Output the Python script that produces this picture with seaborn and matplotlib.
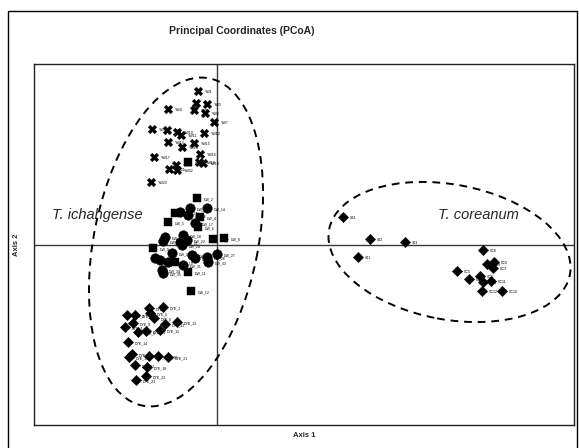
import matplotlib
matplotlib.use("Agg")
import matplotlib.pyplot as plt
import seaborn as sns
import pandas as pd
from matplotlib.patches import Ellipse, Rectangle

sns.set_style("white")
plt.rcParams['font.family'] = ['Liberation Sans', 'DejaVu Sans']

# ---- data (PCoA coordinates) ----
yw_x = [-0.19, -0.21, -0.10, -0.49, -0.23, -0.12, -0.03, -0.65, -0.50, -0.40, -0.36, -0.13,
        -0.49, -0.35, -0.23, -0.17, -0.63, -0.18, -0.14, -0.41, -0.48, -0.40, -0.66]
yw_y = [1.54, 1.42, 1.41, 1.36, 1.35, 1.32, 1.23, 1.16, 1.15, 1.13, 1.10, 1.12,
        1.03, 0.98, 1.02, 0.91, 0.88, 0.83, 0.82, 0.80, 0.76, 0.75, 0.63]
yw_lab = ["YW%d" % (i + 1) for i in range(len(yw_x))]

dws_x = [-0.29, -0.20, -0.42, -0.17, -0.49, -0.19, -0.04, 0.07, -0.64, -0.42, -0.29, -0.26]
dws_y = [0.83, 0.47, 0.32, 0.28, 0.23, 0.18, 0.06, 0.07, -0.03, -0.17, -0.27, -0.46]
dws_lab = ["DW_%d" % (i + 1) for i in range(len(dws_x))]

dwc_x = [-0.27, -0.10, -0.37, -0.29, -0.22, -0.34, -0.52, -0.54, -0.37, -0.30, -0.45, -0.35,
         -0.25, -0.10, 0.00, -0.62, -0.57, -0.49, -0.34, -0.22, -0.09, -0.55, -0.54]
dwc_y = [0.37, 0.37, 0.33, 0.30, 0.22, 0.10, 0.08, 0.04, 0.03, 0.05, -0.08, 0.00,
         -0.10, -0.12, -0.09, -0.13, -0.15, -0.17, -0.20, -0.13, -0.17, -0.25, -0.28]
dwc_lab = ["DW_%d" % (i + 13) for i in range(len(dwc_x))]

dye_x = [-0.68, -0.54, -0.90, -0.82, -0.67, -0.63, -0.92, -0.84, -0.79, -0.71, -0.57, -0.52,
         -0.40, -0.89, -0.85, -0.88, -0.82, -0.70, -0.68, -0.59, -0.49, -0.71, -0.81]
dye_y = [-0.63, -0.62, -0.70, -0.70, -0.68, -0.73, -0.82, -0.78, -0.87, -0.86, -0.85, -0.79,
         -0.77, -0.97, -1.09, -1.12, -1.20, -1.22, -1.11, -1.11, -1.12, -1.31, -1.35]
dye_lab = ["DYE_%d" % (i + 1) for i in range(len(dye_x))]

sj_x = [1.26, 1.53, 1.88, 1.41]
sj_y = [0.28, 0.06, 0.03, -0.12]
sj_lab = ["SJ4", "SJ2", "SJ3", "SJ1"]

cc_x = [2.66, 2.70, 2.77, 2.76, 2.40, 2.63, 2.52, 2.66, 2.74, 2.65, 2.85]
cc_y = [-0.05, -0.19, -0.17, -0.23, -0.26, -0.31, -0.34, -0.37, -0.36, -0.46, -0.46]
cc_lab = ["CC6", "CC8", "CC9", "CC3", "CC5", "CC1", "CC7", "CC4", "CC11", "CC12", "CC10"]

groups = [
    (yw_x, yw_y, yw_lab, "X", 38),
    (dws_x, dws_y, dws_lab, "s", 40),
    (dwc_x, dwc_y, dwc_lab, "o", 48),
    (dye_x, dye_y, dye_lab, "D", 28),
    (sj_x, sj_y, sj_lab, "D", 28),
    (cc_x, cc_y, cc_lab, "D", 28),
]

W, H = 579, 448
fig = plt.figure(figsize=(W / 100, H / 100), dpi=100)
ax = fig.add_axes([34 / W, (H - 425) / H, 540 / W, 361 / H])

for gx, gy, glab, mk, sz in groups:
    df = pd.DataFrame({"x": gx, "y": gy})
    sns.scatterplot(data=df, x="x", y="y", marker=mk, s=sz, color="black",
                    edgecolor="black", linewidth=0.3, ax=ax, zorder=3, legend=False)
    for xi, yi, li in zip(gx, gy, glab):
        ax.annotate(li, (xi, yi), xytext=(5, -1), textcoords="offset points",
                    fontsize=2.6, color="black", va="center", zorder=4)

ax.axhline(0, color="#3a3a3a", lw=1.0, zorder=1)
ax.axvline(0, color="#3a3a3a", lw=1.0, zorder=1)

ax.add_patch(Ellipse((-0.41, 0.03), 3.34, 1.64, angle=78.4, fill=False,
                     ls=(0, (4, 3)), lw=1.4, color="black", zorder=2))
ax.add_patch(Ellipse((2.325, -0.07), 2.45, 1.35, angle=-10.6, fill=False,
                     ls=(0, (4, 3)), lw=1.4, color="black", zorder=2))

ax.text(-1.65, 0.30, "T. ichahgense", style="italic", fontsize=10.5, va="center", ha="left")
ax.text(2.21, 0.30, "T. coreanum", style="italic", fontsize=10.5, va="center", ha="left")

ax.set_xlim(-1.83, 3.57)
ax.set_ylim(-1.80, 1.81)
ax.set_xticks([])
ax.set_yticks([])
ax.set_xlabel("")
ax.set_ylabel("")
for sp in ax.spines.values():
    sp.set_color("#222222")
    sp.set_linewidth(1.0)

fig.patches.append(Rectangle((8 / W, -0.1), (577 - 8) / W, 1.1 - 11 / H,
                             transform=fig.transFigure, fill=False,
                             ec="black", lw=1.0))

fig.text(242 / W, 1 - 31 / H, "Principal Coordinates (PCoA)", ha="center", va="center",
         fontsize=7.5, fontweight="bold")
fig.text(304 / W, 1 - 435 / H, "Axis 1", ha="center", va="center",
         fontsize=5.5, fontweight="bold")
fig.text(17 / W, 1 - 245 / H, "Axis 2", ha="center", va="center", rotation=90,
         fontsize=5.5, fontweight="bold")

fig.savefig("out.png", dpi=100)
